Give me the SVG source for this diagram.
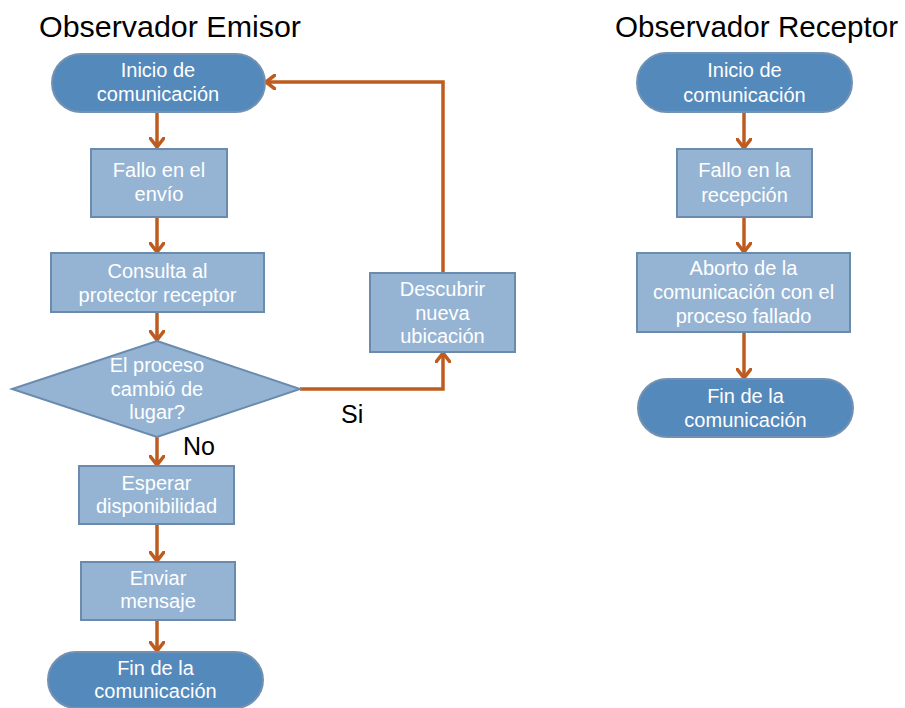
<svg xmlns="http://www.w3.org/2000/svg" width="905" height="708" viewBox="0 0 905 708">
<defs>
<style>
.term{fill:#5489BC;stroke:#7391B2;stroke-width:2}
.proc{fill:#95B4D4;stroke:#6A8BAE;stroke-width:2}
.t{font-family:"Liberation Sans",Arial,sans-serif;font-size:20px;fill:#ffffff;text-anchor:middle}
.title{font-family:"Liberation Sans",Arial,sans-serif;font-size:30px;fill:#000000}
.lbl{font-family:"Liberation Sans",Arial,sans-serif;font-size:25px;fill:#000000}
.c{fill:none;stroke:#BE5C1F;stroke-width:3.5;stroke-linejoin:miter}
</style>
<marker id="arr" viewBox="0 0 12 16" refX="10" refY="8" markerWidth="12" markerHeight="16" markerUnits="userSpaceOnUse" orient="auto">
<path d="M1,1 L10,8 L1,15" fill="none" stroke="#BE5C1F" stroke-width="3.5" stroke-linecap="round"/>
</marker>
</defs>
<rect width="905" height="708" fill="#ffffff"/>
<text class="title" x="39" y="37" textLength="262" lengthAdjust="spacingAndGlyphs">Observador Emisor</text>
<text class="title" x="615" y="37" textLength="283" lengthAdjust="spacingAndGlyphs">Observador Receptor</text>

<g id="connectors">
<path class="c" d="M157,112 V147" marker-end="url(#arr)"/>
<path class="c" d="M157,217 V252" marker-end="url(#arr)"/>
<path class="c" d="M157,312 V340" marker-end="url(#arr)"/>
<path class="c" d="M157,437 V465" marker-end="url(#arr)"/>
<path class="c" d="M157,524 V561" marker-end="url(#arr)"/>
<path class="c" d="M157,620 V651" marker-end="url(#arr)"/>
<path class="c" d="M300,389 H443 V353" marker-end="url(#arr)"/>
<path class="c" d="M443,273 V82 H266" marker-end="url(#arr)"/>
<path class="c" d="M744,112 V148" marker-end="url(#arr)"/>
<path class="c" d="M744,217 V252" marker-end="url(#arr)"/>
<path class="c" d="M744,332 V378" marker-end="url(#arr)"/>
</g>

<g id="e_inicio">
<rect class="term" x="52" y="54" width="213" height="58" rx="29"/>
<text class="t" x="158" y="77">Inicio de</text>
<text class="t" x="158" y="101">comunicación</text>
</g>
<g id="e_fallo">
<rect class="proc" x="91" y="149" width="136" height="68"/>
<text class="t" x="159" y="177">Fallo en el</text>
<text class="t" x="159" y="201">envío</text>
</g>
<g id="e_consulta">
<rect class="proc" x="51" y="253" width="213" height="59"/>
<text class="t" x="157.5" y="278">Consulta al</text>
<text class="t" x="157.5" y="302">protector receptor</text>
</g>
<g id="e_decision">
<polygon class="proc" points="157,341 300,389 157,437 12,389"/>
<text class="t" x="157" y="372">El proceso</text>
<text class="t" x="157" y="396">cambió de</text>
<text class="t" x="157" y="419">lugar?</text>
</g>
<g id="e_descubrir">
<rect class="proc" x="370" y="273" width="145" height="79"/>
<text class="t" x="442.5" y="296">Descubrir</text>
<text class="t" x="442.5" y="320">nueva</text>
<text class="t" x="442.5" y="343">ubicación</text>
</g>
<g id="e_esperar">
<rect class="proc" x="79" y="466" width="155" height="58"/>
<text class="t" x="156.5" y="490">Esperar</text>
<text class="t" x="156.5" y="513">disponibilidad</text>
</g>
<g id="e_enviar">
<rect class="proc" x="81" y="562" width="154" height="58"/>
<text class="t" x="158" y="585">Enviar</text>
<text class="t" x="158" y="608">mensaje</text>
</g>
<g id="e_fin">
<rect class="term" x="48" y="652" width="215" height="56" rx="28"/>
<text class="t" x="155.5" y="675">Fin de la</text>
<text class="t" x="155.5" y="698">comunicación</text>
</g>

<text class="lbl" x="341" y="423">Si</text>
<text class="lbl" x="183" y="455">No</text>

<g id="r_inicio">
<rect class="term" x="637" y="53" width="215" height="59" rx="29.5"/>
<text class="t" x="744.5" y="77">Inicio de</text>
<text class="t" x="744.5" y="102">comunicación</text>
</g>
<g id="r_fallo">
<rect class="proc" x="677" y="149" width="135" height="68"/>
<text class="t" x="744.5" y="177">Fallo en la</text>
<text class="t" x="744.5" y="202">recepción</text>
</g>
<g id="r_aborto">
<rect class="proc" x="637" y="253" width="213" height="79"/>
<text class="t" x="743.5" y="275">Aborto de la</text>
<text class="t" x="743.5" y="299">comunicación con el</text>
<text class="t" x="743.5" y="323">proceso fallado</text>
</g>
<g id="r_fin">
<rect class="term" x="638" y="379" width="215" height="58" rx="29"/>
<text class="t" x="745.5" y="403">Fin de la</text>
<text class="t" x="745.5" y="427">comunicación</text>
</g>
</svg>
